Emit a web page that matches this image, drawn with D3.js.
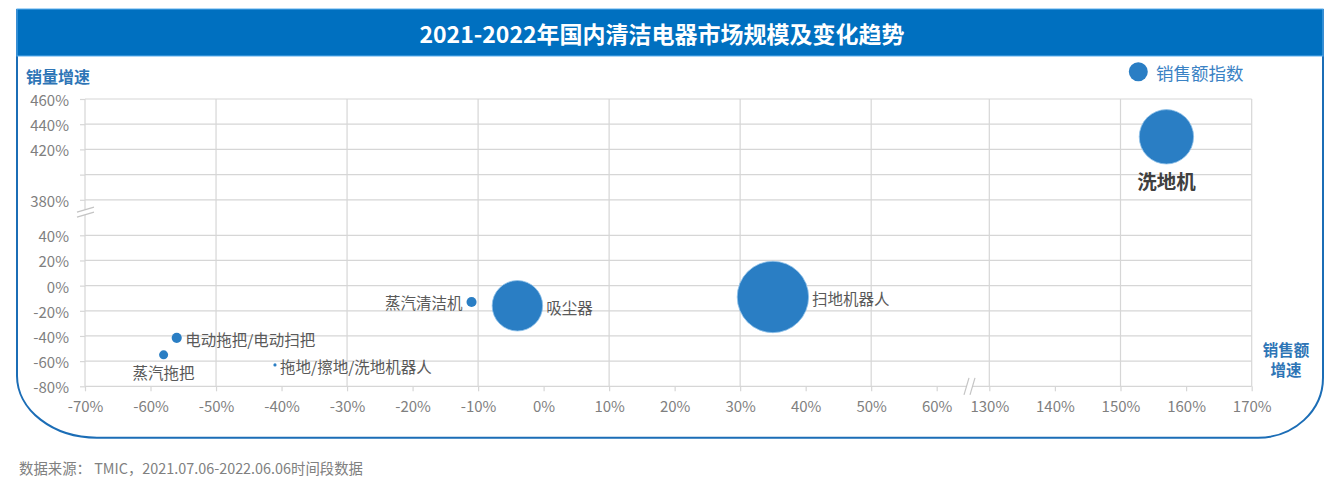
<!DOCTYPE html>
<html><head><meta charset="utf-8">
<script src="https://cdn.jsdelivr.net/npm/d3@7/dist/d3.min.js"></script>
<style>
html,body{margin:0;padding:0;background:#fff;}
svg{display:block;font-family:"Noto Sans CJK SC","Noto Sans",sans-serif;}
</style></head>
<body>
<svg id="c" width="1341" height="487"></svg>
<script>
// ---- data ----
const categories = ["洗地机","扫地机器人","吸尘器","蒸汽清洁机","电动拖把/电动扫把","蒸汽拖把","拖地/擦地/洗地机器人"];
const salesGrowth = [157, 35, -4, -11, -56, -58, -41];        // x, %
const volumeGrowth = [430, -9, -16, -13, -41.5, -55, -63];     // y, %
const salesIndex = [58, 100, 50, 2, 2, 1.6, 0.2];              // bubble size
const labelPlace = ["below","right","right","left","right","below","right"];
const xTicksLow = [-70,-60,-50,-40,-30,-20,-10,0,10,20,30,40,50,60];
const xTicksHigh = [130,140,150,160,170];
const xGridLow = [-50,-30,-10,10,30,50];
const xGridHigh = [130,150,170];
const yTicksLow = [-80,-60,-40,-20,0,20,40];
const yTicksHigh = [380,400,420,440,460];
const yHiddenLabels = [400];
const title = "2021-2022年国内清洁电器市场规模及变化趋势";
const yTitle = "销量增速";
const xTitle = ["销售额","增速"];
const legendLabel = "销售额指数";
const source = "数据来源： TMIC，2021.07.06-2022.06.06时间段数据";

// ---- layout ----
const svg = d3.select("#c");
const L = 85, R = 1251.7, T = 99, B = 386.3;
const xLow = d3.scaleLinear().domain([-70,60]).range([L, 936.7]);
const xHigh = d3.scaleLinear().domain([130,170]).range([989.3, R]);
const yLow = d3.scaleLinear().domain([-80,40]).range([B, 235.3]);
const yHigh = d3.scaleLinear().domain([380,460]).range([199.8, T]);
const X = v => v >= 100 ? xHigh(v) : xLow(v);
const Y = v => v >= 300 ? yHigh(v) : yLow(v);
const rScale = d3.scaleSqrt().domain([0,100]).range([0,35.7]);

const blue = "#0070C0", bubble = "#2a7ec4", grid = "#d6d6d6", tickTxt = "#7f7f7f", lab = "#595959";

// frame
svg.append("path")
  .attr("d","M17,9 V376 A80,62 0 0 0 97,437.7 H1258 A65,60 0 0 0 1323,377.7 V9")
  .attr("fill","none").attr("stroke","#1b6db6").attr("stroke-width",2);
svg.append("rect").attr("x",17).attr("y",9).attr("width",1306).attr("height",47)
  .attr("fill",blue).attr("stroke","#5aaeee").attr("stroke-width",1);
svg.append("text").attr("x",662).attr("y",33).attr("text-anchor","middle")
  .attr("dominant-baseline","central").attr("fill","#fff")
  .attr("font-size",23).attr("font-weight","bold").text(title);

// gridlines
const g = svg.append("g");
const hLines = yTicksLow.map(yLow).concat(yTicksHigh.map(yHigh));
g.selectAll("line.h").data(hLines).join("line")
  .attr("x1",L).attr("x2",R).attr("y1",d=>d).attr("y2",d=>d)
  .attr("stroke",grid).attr("stroke-width",1.2);
const vLines = [L].concat(xGridLow.map(xLow), xGridHigh.map(xHigh));
g.selectAll("line.v").data(vLines).join("line")
  .attr("x1",d=>d).attr("x2",d=>d).attr("y1",T).attr("y2",B)
  .attr("stroke",grid).attr("stroke-width",1.2);

// axes
function styleAxis(sel){
  sel.select(".domain").remove();
  sel.selectAll(".tick line").attr("stroke",grid).attr("stroke-width",1.2);
  sel.selectAll(".tick text").attr("fill",tickTxt).attr("font-size",15)
    .attr("font-family",'"Noto Sans CJK SC","Noto Sans",sans-serif');
}
const fmt = d => yHiddenLabels.includes(d) ? "" : d + "%";
[[yLow,yTicksLow],[yHigh,yTicksHigh]].forEach(([s,t])=>{
  const a = svg.append("g").attr("transform",`translate(${L},0)`)
    .call(d3.axisLeft(s).tickValues(t).tickSize(5).tickPadding(11).tickFormat(fmt));
  styleAxis(a);
  a.selectAll(".tick text").attr("dy",null).attr("dominant-baseline","central");
});
[[xLow,xTicksLow],[xHigh,xTicksHigh]].forEach(([s,t])=>{
  const a = svg.append("g").attr("transform",`translate(0,${B})`)
    .call(d3.axisBottom(s).tickValues(t).tickSize(5).tickFormat(d=>d+"%"));
  styleAxis(a);
  a.selectAll(".tick text").attr("y",19).attr("dy",null).attr("dominant-baseline","central");
});

// axis break marks
const yb = (yHigh(380)+yLow(40))/2 - 3;
svg.append("path").attr("d",`M77,${yb-2.5} L94,${yb-7.5} L94,${yb-2.5} L77,${yb+2.5} Z`).attr("fill","#fff");
[0,5].forEach(o=>svg.append("line").attr("x1",77).attr("y1",yb-2.5+o).attr("x2",94).attr("y2",yb-7.5+o)
  .attr("stroke","#c4c4c4").attr("stroke-width",1.2));
const xb = (xLow(60)+xHigh(130))/2;
svg.append("path").attr("d",`M${xb+1},${B+8} L${xb+6},${B-8} L${xb+12},${B-8} L${xb+7},${B+8} Z`).attr("fill","#fff");
[0,6].forEach(o=>svg.append("line").attr("x1",xb+1+o).attr("y1",B+8.5).attr("x2",xb+6+o).attr("y2",B-8.5)
  .attr("stroke","#c4c4c4").attr("stroke-width",1.2));

// bubbles
const data = categories.map((c,i)=>({c, x:salesGrowth[i], y:volumeGrowth[i], s:salesIndex[i], p:labelPlace[i]}));
svg.append("g").selectAll("circle").data(data).join("circle")
  .attr("cx",d=>X(d.x)).attr("cy",d=>Y(d.y)).attr("r",d=>rScale(d.s))
  .attr("fill",bubble).attr("stroke","#8fc1ea").attr("stroke-width",d=>rScale(d.s)>10?0.8:0);

svg.append("g").selectAll("text").data(data).join("text")
  .each(function(d){
    const t = d3.select(this), cx = X(d.x), cy = Y(d.y), r = rScale(d.s);
    const bold = d.s > 55 && d.p === "below";
    const fs = bold ? 19.5 : 15.5;
    t.attr("font-size",fs).attr("fill",bold?"#404040":lab).attr("font-weight",bold?"bold":"normal")
     .attr("dominant-baseline","central").text(d.c);
    if (d.p === "right") t.attr("x",cx+r+3.5).attr("y",cy+1.2).attr("text-anchor","start");
    else if (d.p === "left") t.attr("x",cx-r-4).attr("y",cy+0.5).attr("text-anchor","end");
    else t.attr("x",cx).attr("y",cy+r+fs*0.84).attr("text-anchor","middle");
  });

// axis titles
svg.append("text").attr("x",26).attr("y",76).attr("dominant-baseline","central")
  .attr("font-size",16).attr("font-weight","bold").attr("fill","#2e75b6").text(yTitle);
svg.append("g").selectAll("text").data(xTitle).join("text")
  .attr("x",1286).attr("y",(d,i)=>349+i*20).attr("text-anchor","middle").attr("dominant-baseline","central")
  .attr("font-size",15.5).attr("font-weight","bold").attr("fill","#2e75b6").text(d=>d);

// legend
svg.append("circle").attr("cx",1138.3).attr("cy",71.7).attr("r",9.5).attr("fill",bubble);
svg.append("text").attr("x",1156).attr("y",72.5).attr("dominant-baseline","central")
  .attr("font-size",17.5).attr("fill","#3a82c4").text(legendLabel);

// source
svg.append("text").attr("x",19).attr("y",467.7).attr("dominant-baseline","central")
  .attr("font-size",14.4).attr("fill","#808080").text(source);
</script>
</body></html>
